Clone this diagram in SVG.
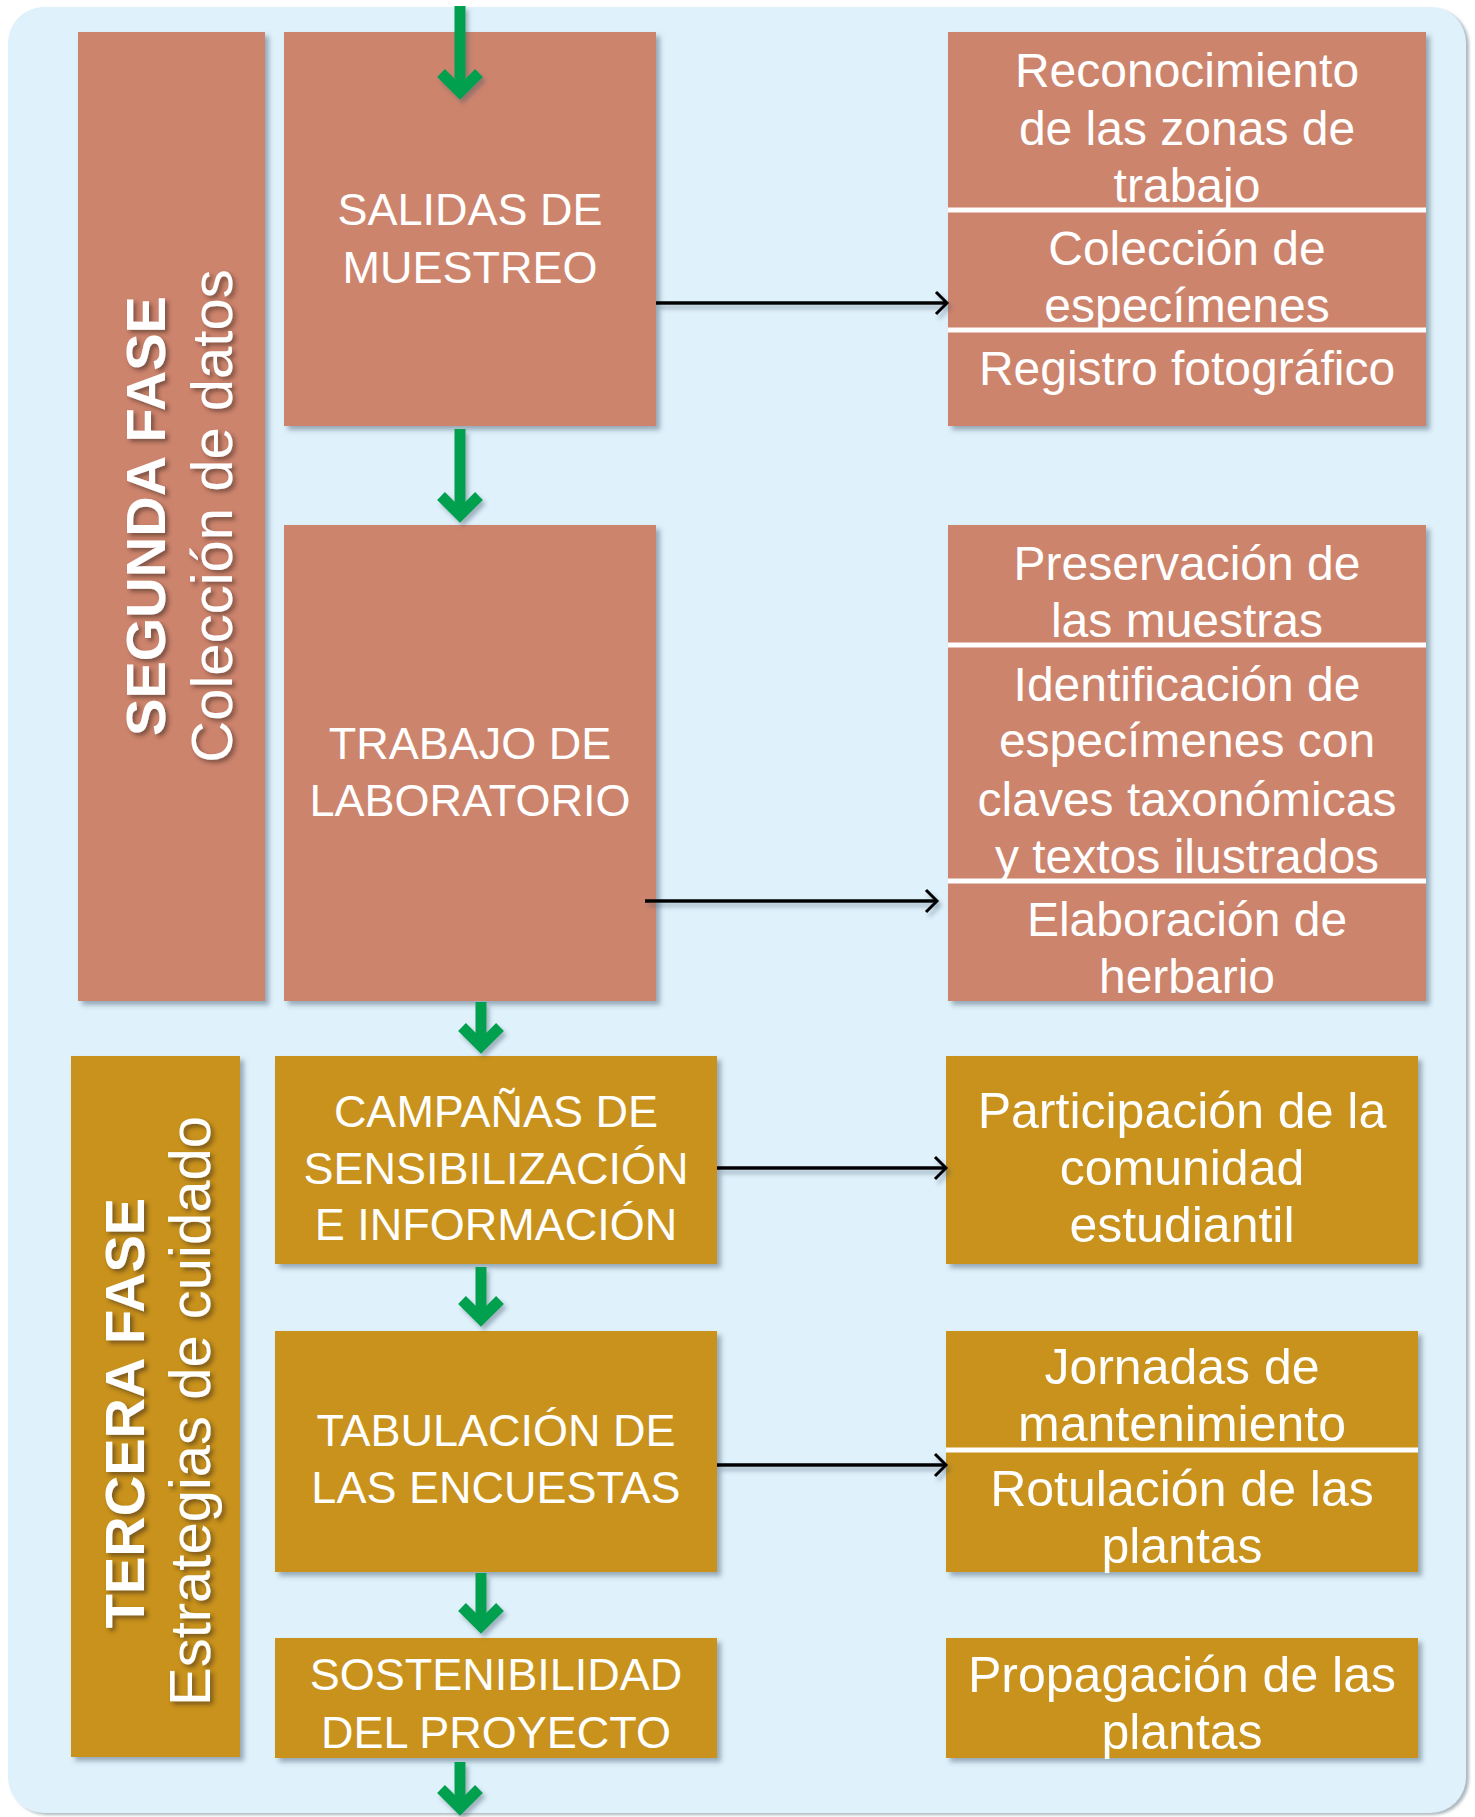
<svg xmlns="http://www.w3.org/2000/svg" width="1475" height="1817" viewBox="0 0 1475 1817">
<defs>
<filter id="sh" x="-10%" y="-10%" width="130%" height="130%"><feDropShadow dx="4" dy="4" stdDeviation="2.5" flood-color="#3d5566" flood-opacity="0.45"/></filter>
<filter id="tsh" x="-10%" y="-10%" width="130%" height="130%"><feDropShadow dx="3" dy="3" stdDeviation="2" flood-color="#3a2a20" flood-opacity="0.55"/></filter>
<filter id="lsh" x="-10%" y="-50%" width="130%" height="300%"><feDropShadow dx="3" dy="4" stdDeviation="2" flood-color="#3d5566" flood-opacity="0.4"/></filter>
<filter id="bgsh" x="-5%" y="-5%" width="110%" height="110%"><feDropShadow dx="3" dy="2" stdDeviation="1.5" flood-color="#8a9aa6" flood-opacity="0.7"/></filter>
</defs>
<style>
.sal{fill:#cd846d}
.gold{fill:#c8921d}
.t{font-family:"Liberation Sans",Arial,sans-serif;fill:#ffffff;text-anchor:middle}
.caps{font-size:45px}
.rs{font-size:48px}
.rg{font-size:50px}
.vb{font-family:"Liberation Sans",Arial,sans-serif;font-weight:bold;font-size:56px;fill:#ffffff;text-anchor:middle}
.vr{font-family:"Liberation Sans",Arial,sans-serif;font-size:58px;fill:#ffffff;text-anchor:middle}
.div{stroke:#ffffff;stroke-width:5}
.g line,.g polyline{stroke:#00a04f;stroke-width:11;fill:none;stroke-linejoin:miter;stroke-miterlimit:10}
.k line{stroke:#000000;stroke-width:3.5}
.k polyline{stroke:#000000;stroke-width:3;fill:none}
</style>
<rect id="background" x="8" y="7" width="1458" height="1806" rx="36" fill="#dff1fb" filter="url(#bgsh)"/>

<g id="segunda-fase">
<rect class="sal" x="78" y="32" width="187" height="969" filter="url(#sh)"/>
<g filter="url(#tsh)">
<text class="vb" transform="translate(165,516) rotate(-90)">SEGUNDA FASE</text>
<text class="vr" transform="translate(232,516) rotate(-90)">Colección de datos</text>
</g>
</g>

<g id="salidas">
<rect class="sal" x="284" y="32" width="372" height="394" filter="url(#sh)"/>
<text class="t caps" x="470" y="225">SALIDAS DE</text>
<text class="t caps" x="470" y="283">MUESTREO</text>
</g>

<g id="salidas-detalle">
<rect class="sal" x="948" y="32" width="478" height="394" filter="url(#sh)"/>
<line class="div" x1="948" y1="210" x2="1426" y2="210"/>
<line class="div" x1="948" y1="330" x2="1426" y2="330"/>
<text class="t rs" x="1187" y="87">Reconocimiento</text>
<text class="t rs" x="1187" y="145">de las zonas de</text>
<text class="t rs" x="1187" y="202">trabajo</text>
<text class="t rs" x="1187" y="265">Colección de</text>
<text class="t rs" x="1187" y="322">especímenes</text>
<text class="t rs" x="1187" y="385">Registro fotográfico</text>
</g>

<g id="trabajo">
<rect class="sal" x="284" y="525" width="372" height="476" filter="url(#sh)"/>
<text class="t caps" x="470" y="759">TRABAJO DE</text>
<text class="t caps" x="470" y="816">LABORATORIO</text>
</g>

<g id="trabajo-detalle">
<rect class="sal" x="948" y="525" width="478" height="476" filter="url(#sh)"/>
<line class="div" x1="948" y1="645" x2="1426" y2="645"/>
<line class="div" x1="948" y1="881" x2="1426" y2="881"/>
<text class="t rs" x="1187" y="580">Preservación de</text>
<text class="t rs" x="1187" y="637">las muestras</text>
<text class="t rs" x="1187" y="701">Identificación de</text>
<text class="t rs" x="1187" y="757">especímenes con</text>
<text class="t rs" x="1187" y="816">claves taxonómicas</text>
<text class="t rs" x="1187" y="873">y textos ilustrados</text>
<text class="t rs" x="1187" y="936">Elaboración de</text>
<text class="t rs" x="1187" y="993">herbario</text>
</g>

<g id="tercera-fase">
<rect class="gold" x="71" y="1056" width="169" height="701" filter="url(#sh)"/>
<g filter="url(#tsh)">
<text class="vb" transform="translate(144,1413) rotate(-90)">TERCERA FASE</text>
<text class="vr" transform="translate(210,1411) rotate(-90)">Estrategias de cuidado</text>
</g>
</g>

<g id="campanas">
<rect class="gold" x="275" y="1056" width="442" height="208" filter="url(#sh)"/>
<text class="t caps" x="496" y="1127">CAMPAÑAS DE</text>
<text class="t caps" x="496" y="1184">SENSIBILIZACIÓN</text>
<text class="t caps" x="496" y="1240">E INFORMACIÓN</text>
</g>

<g id="participacion">
<rect class="gold" x="946" y="1056" width="472" height="208" filter="url(#sh)"/>
<text class="t rg" x="1182" y="1128">Participación de la</text>
<text class="t rg" x="1182" y="1185">comunidad</text>
<text class="t rg" x="1182" y="1242">estudiantil</text>
</g>

<g id="tabulacion">
<rect class="gold" x="275" y="1331" width="442" height="241" filter="url(#sh)"/>
<text class="t caps" x="496" y="1446">TABULACIÓN DE</text>
<text class="t caps" x="496" y="1503">LAS ENCUESTAS</text>
</g>

<g id="tabulacion-detalle">
<rect class="gold" x="946" y="1331" width="472" height="241" filter="url(#sh)"/>
<line class="div" x1="946" y1="1450" x2="1418" y2="1450"/>
<text class="t rg" x="1182" y="1384">Jornadas de</text>
<text class="t rg" x="1182" y="1441">mantenimiento</text>
<text class="t rg" x="1182" y="1506">Rotulación de las</text>
<text class="t rg" x="1182" y="1563">plantas</text>
</g>

<g id="sostenibilidad">
<rect class="gold" x="275" y="1638" width="442" height="120" filter="url(#sh)"/>
<text class="t caps" x="496" y="1690">SOSTENIBILIDAD</text>
<text class="t caps" x="496" y="1748">DEL PROYECTO</text>
</g>

<g id="propagacion">
<rect class="gold" x="946" y="1638" width="472" height="120" filter="url(#sh)"/>
<text class="t rg" x="1182" y="1692">Propagación de las</text>
<text class="t rg" x="1182" y="1749">plantas</text>
</g>

<g id="connectors">
<g class="g" filter="url(#lsh)">
<line x1="460" y1="6" x2="460" y2="92"/><polyline points="441,73 460,92 479,73"/>
<line x1="460" y1="429" x2="460" y2="515"/><polyline points="441,496 460,515 479,496"/>
<line x1="481" y1="1002" x2="481" y2="1046"/><polyline points="462,1027 481,1046 500,1027"/>
<line x1="481" y1="1267" x2="481" y2="1319"/><polyline points="462,1300 481,1319 500,1300"/>
<line x1="481" y1="1573" x2="481" y2="1626"/><polyline points="462,1607 481,1626 500,1607"/>
<line x1="460" y1="1762" x2="460" y2="1808"/><polyline points="441,1789 460,1808 479,1789"/>
</g>
<g class="k" filter="url(#lsh)">
<line x1="656" y1="303" x2="946" y2="303"/><polyline points="936,292 947,303 936,314"/>
<line x1="645" y1="901" x2="936" y2="901"/><polyline points="926,890 937,901 926,912"/>
<line x1="717" y1="1168" x2="945" y2="1168"/><polyline points="935,1157 946,1168 935,1179"/>
<line x1="717" y1="1465" x2="945" y2="1465"/><polyline points="935,1454 946,1465 935,1476"/>
</g>
</g>
</svg>
